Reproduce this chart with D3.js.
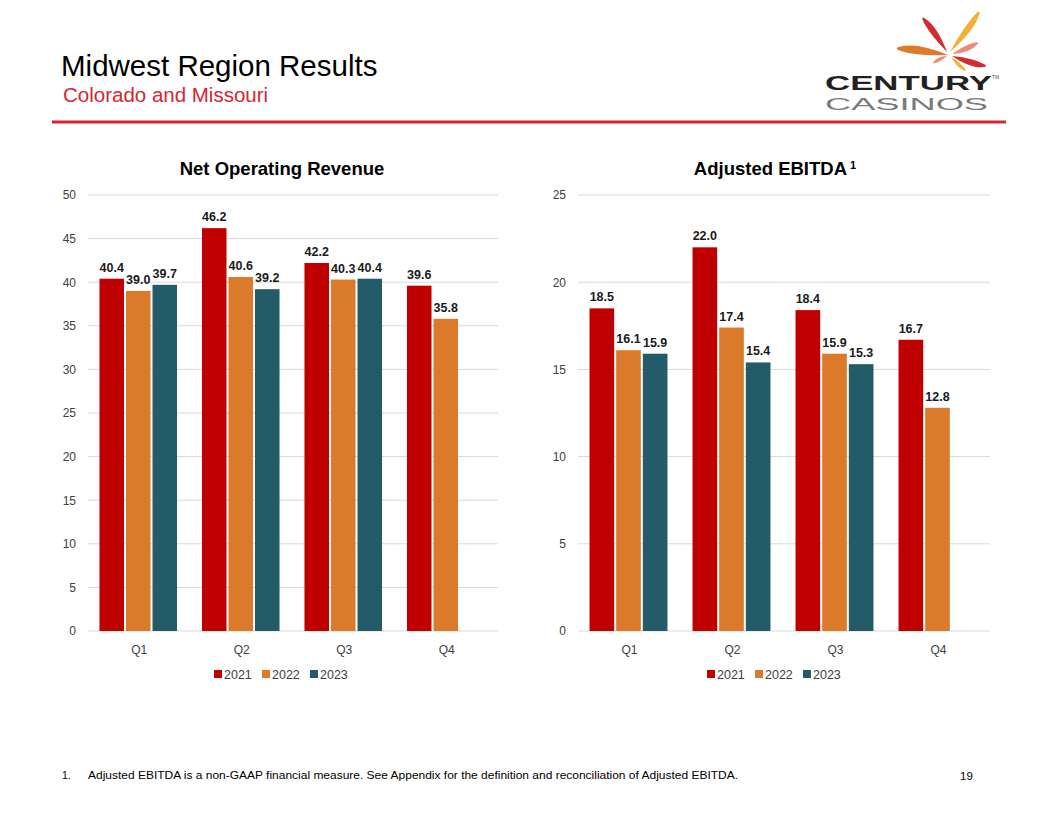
<!DOCTYPE html>
<html>
<head>
<meta charset="utf-8">
<script src="https://cdn.jsdelivr.net/npm/d3@7"></script>
<style>
  body { margin: 0; background: #fff; }
  text { font-family: Arial, "Liberation Sans", sans-serif; }
</style>
</head>
<body>
<script>
var width = 1056, height = 816;

// data
var quarters = ["Q1", "Q2", "Q3", "Q4"];
var years = ["2021", "2022", "2023"];
var colors = ["#c00000", "#dc7a2b", "#235b69"];

var revenue2021 = [40.4, 46.2, 42.2, 39.6];
var revenue2022 = [39.0, 40.6, 40.3, 35.8];
var revenue2023 = [39.7, 39.2, 40.4, null];

var ebitda2021 = [18.5, 22.0, 18.4, 16.7];
var ebitda2022 = [16.1, 17.4, 15.9, 12.8];
var ebitda2023 = [15.9, 15.4, 15.3, null];

var revenueTicks = [0, 5, 10, 15, 20, 25, 30, 35, 40, 45, 50];
var ebitdaTicks = [0, 5, 10, 15, 20, 25];

var svg = d3.select("body").append("svg")
    .attr("width", width)
    .attr("height", height);

// header
svg.append("text")
    .attr("x", 61).attr("y", 76)
    .attr("font-size", 29.5).attr("fill", "#000")
    .text("Midwest Region Results");
svg.append("text")
    .attr("x", 63).attr("y", 102)
    .attr("font-size", 20.5).attr("fill", "#d7262e")
    .text("Colorado and Missouri");
svg.append("line")
    .attr("x1", 52).attr("x2", 1006)
    .attr("y1", 122).attr("y2", 122)
    .attr("stroke", "#d7262e").attr("stroke-width", 3);

// logo
function petal(x0, y0, x1, y1, w) {
  // narrow at (x0,y0), wide round end at (x1,y1)
  var dx = x1 - x0, dy = y1 - y0, l = Math.sqrt(dx * dx + dy * dy);
  var nx = -dy / l, ny = dx / l;
  var mx = x0 + dx * 0.7, my = y0 + dy * 0.7;
  var p = d3.path();
  p.moveTo(x0, y0);
  p.quadraticCurveTo(mx + nx * w, my + ny * w, x1 + nx * w * 0.2 + dx / l * w * 0.3, y1 + ny * w * 0.2 + dy / l * w * 0.3);
  p.quadraticCurveTo(x1 + dx / l * w * 0.9, y1 + dy / l * w * 0.9, x1 - nx * w * 0.2 + dx / l * w * 0.3, y1 - ny * w * 0.2 + dy / l * w * 0.3);
  p.quadraticCurveTo(mx - nx * w * 0.6, my - ny * w * 0.6, x0, y0);
  return p.toString();
}
var logo = svg.append("g");
var petals = [
  [948, 55, 902, 49, 9, "#de7b2b"],
  [947, 52, 925, 21, 7, "#d52b30"],
  [950, 52, 977, 15, 7, "#f1b132"],
  [952, 54, 975, 44, 6, "#eb8b7c"],
  [952, 56, 982, 65, 7, "#d52b30"],
  [951, 57, 964, 69, 4, "#f1b132"],
  [947, 56, 935, 62, 4, "#eb8b7c"]
];
logo.selectAll("path").data(petals).enter().append("path")
    .attr("d", function(d) { return petal(d[0], d[1], d[2], d[3], d[4]); })
    .attr("fill", function(d) { return d[5]; });
logo.append("text")
    .attr("x", 825).attr("y", 90)
    .attr("font-size", 20).attr("font-weight", "bold")
    .attr("font-family", "DejaVu Sans")
    .attr("textLength", 167).attr("lengthAdjust", "spacingAndGlyphs")
    .attr("fill", "#231f20")
    .text("CENTURY");
logo.append("text")
    .attr("x", 825).attr("y", 109.5)
    .attr("font-size", 16)
    .attr("font-family", "DejaVu Sans")
    .attr("textLength", 163).attr("lengthAdjust", "spacingAndGlyphs")
    .attr("fill", "#7a7a7a")
    .text("CASINOS");
logo.append("text")
    .attr("x", 992).attr("y", 79)
    .attr("font-size", 5).attr("fill", "#555")
    .text("TM");

function drawChart(opts) {
  var g = svg.append("g");
  var x0 = d3.scaleBand().domain(quarters).range([opts.left, opts.right]);
  var x1 = d3.scaleBand().domain(years).range([0, x0.bandwidth()])
      .paddingInner(0.075).paddingOuter(0.47);
  var y = d3.scaleLinear().domain([0, opts.max]).range([631, 195]);

  g.selectAll(".grid").data(opts.ticks).enter().append("line")
      .attr("x1", opts.left).attr("x2", opts.right)
      .attr("y1", function(d) { return y(d); })
      .attr("y2", function(d) { return y(d); })
      .attr("stroke", "#d9d9d9").attr("stroke-width", 1);

  var yAxis = g.append("g")
      .attr("transform", "translate(" + (opts.left - 12) + ",0)")
      .call(d3.axisLeft(y).tickValues(opts.ticks).tickSize(0).tickPadding(0));
  yAxis.select(".domain").remove();
  yAxis.selectAll("text").attr("font-size", 12).attr("fill", "#404040")
      .attr("font-family", "Arial, Liberation Sans, sans-serif");

  var xAxis = g.append("g")
      .attr("transform", "translate(0,631)")
      .call(d3.axisBottom(x0).tickSize(0).tickPadding(14));
  xAxis.select(".domain").remove();
  xAxis.selectAll("text").attr("font-size", 12).attr("fill", "#404040")
      .attr("font-family", "Arial, Liberation Sans, sans-serif");

  var bars = [];
  opts.series.forEach(function(s, si) {
    s.forEach(function(v, qi) {
      if (v != null) bars.push({q: quarters[qi], year: years[si], value: v, color: colors[si]});
    });
  });

  g.selectAll(".bar").data(bars).enter().append("rect")
      .attr("x", function(d) { return x0(d.q) + x1(d.year) - 1; })
      .attr("y", function(d) { return y(d.value); })
      .attr("width", x1.bandwidth())
      .attr("height", function(d) { return y(0) - y(d.value); })
      .attr("fill", function(d) { return d.color; });

  g.selectAll(".lbl").data(bars).enter().append("text")
      .attr("x", function(d) { return x0(d.q) + x1(d.year) + x1.bandwidth() / 2 - 1; })
      .attr("y", function(d) { return y(d.value) - 7; })
      .attr("text-anchor", "middle")
      .attr("font-size", 12.5).attr("font-weight", "bold").attr("fill", "#1a1a1a")
      .text(function(d) { return d.value.toFixed(1); });

  var title = g.append("text")
      .attr("x", opts.titleX).attr("y", 175)
      .attr("text-anchor", "middle")
      .attr("font-size", 18.5).attr("font-weight", "bold").attr("fill", "#000")
      .text(opts.title);
  if (opts.sup) {
    title.append("tspan").attr("font-size", 11).attr("dy", -6).attr("dx", 3).text(opts.sup);
  }

  // legend
  var lg = g.append("g").attr("transform", "translate(" + (opts.titleX - 68) + ",674)");
  var item = lg.selectAll("g").data(years).enter().append("g")
      .attr("transform", function(d, i) { return "translate(" + (i * 48) + ",0)"; });
  item.append("rect").attr("x", 0).attr("y", -4).attr("width", 8).attr("height", 8)
      .attr("fill", function(d, i) { return colors[i]; });
  item.append("text").attr("x", 10).attr("y", 4.5)
      .attr("font-size", 12.5).attr("fill", "#404040")
      .text(function(d) { return d; });
}

drawChart({
  left: 88, right: 498, max: 50, ticks: revenueTicks,
  series: [revenue2021, revenue2022, revenue2023],
  title: "Net Operating Revenue", titleX: 282
});

drawChart({
  left: 578, right: 990, max: 25, ticks: ebitdaTicks,
  series: [ebitda2021, ebitda2022, ebitda2023],
  title: "Adjusted EBITDA", sup: "1", titleX: 775
});

// footnote
svg.append("text")
    .attr("x", 62).attr("y", 779)
    .attr("font-size", 10.5)
    .attr("font-family", "Liberation Sans Narrow, Arial Narrow, sans-serif")
    .attr("fill", "#000")
    .text("1.");
svg.append("text")
    .attr("x", 88).attr("y", 779)
    .attr("font-size", 10.5)
    .attr("font-family", "Liberation Sans Narrow, Arial Narrow, sans-serif")
    .attr("textLength", 650).attr("lengthAdjust", "spacingAndGlyphs")
    .attr("fill", "#000")
    .text("Adjusted EBITDA is a non-GAAP financial measure. See Appendix for the definition and reconciliation of Adjusted EBITDA.");
svg.append("text")
    .attr("x", 960).attr("y", 780)
    .attr("font-size", 11.5)
    .attr("font-family", "Liberation Sans Narrow, Arial Narrow, sans-serif")
    .attr("fill", "#000")
    .text("19");
</script>
</body>
</html>
